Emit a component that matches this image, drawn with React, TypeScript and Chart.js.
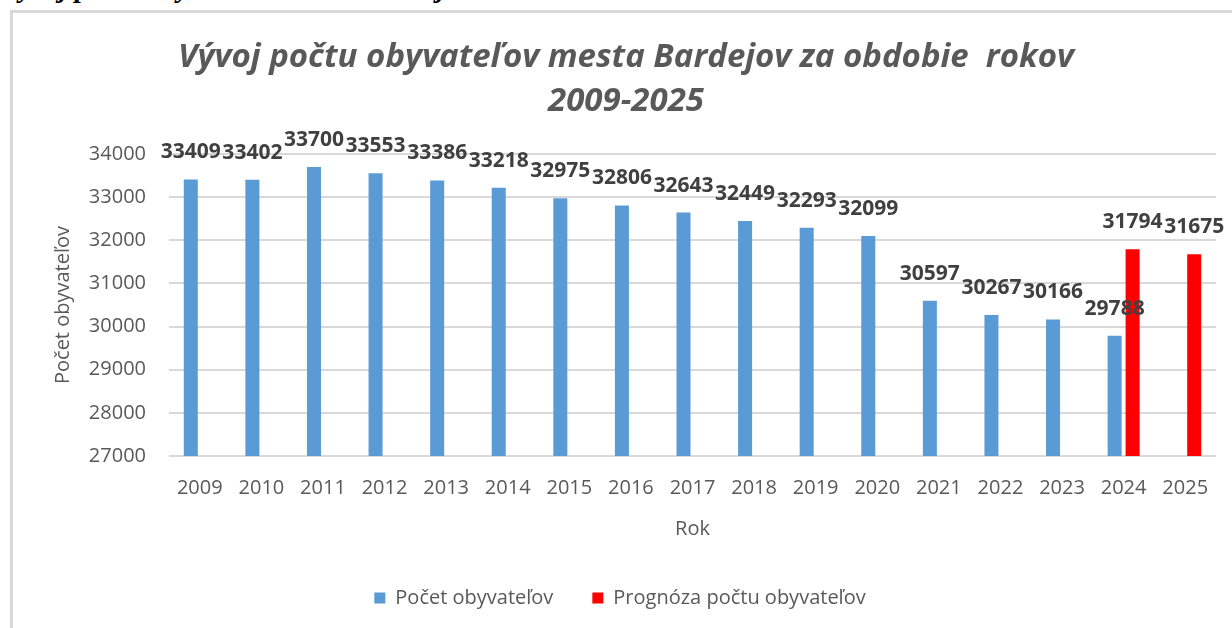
import React, { useEffect, useRef } from "react";
import { Chart, registerables } from "chart.js";

Chart.register(...registerables);

const captionText = "Vývoj počtu obyvateľov mesta Bardejov za obdobie 2009-2025";
const titleLines = ["Vývoj počtu obyvateľov mesta Bardejov za obdobie  rokov", "2009-2025"];
const years = ["2009", "2010", "2011", "2012", "2013", "2014", "2015", "2016", "2017", "2018", "2019", "2020", "2021", "2022", "2023", "2024", "2025"];
const population = [33409, 33402, 33700, 33553, 33386, 33218, 32975, 32806, 32643, 32449, 32293, 32099, 30597, 30267, 30166, 29788, null];
const forecast = [null, null, null, null, null, null, null, null, null, null, null, null, null, null, null, 31794, 31675];
const seriesNames = ["Počet obyvateľov", "Prognóza počtu obyvateľov"];
const yMin = 27000;
const yMax = 34000;
const yStep = 1000;
const yTitle = "Počet obyvateľov";
const xTitle = "Rok";

const FONT = "'Open Sans', 'Noto Sans', sans-serif";

const barLabels = {
  id: "barLabels",
  afterDatasetsDraw(chart: any) {
    const ctx = chart.ctx;
    ctx.save();
    ctx.font = `bold 21px ${FONT}`;
    ctx.fillStyle = "#404040";
    ctx.textAlign = "center";
    ctx.textBaseline = "middle";
    chart.data.datasets.forEach((ds: any, i: number) => {
      const meta = chart.getDatasetMeta(i);
      meta.data.forEach((bar: any, j: number) => {
        const v = ds.data[j];
        if (v == null) return;
        ctx.fillText(String(v), bar.x, bar.y - 27);
      });
    });
    ctx.restore();
  },
};

const shiftLegend = {
  id: "shiftLegend",
  afterLayout(chart: any) {
    if (chart.legend) {
      chart.legend.left -= 6;
      chart.legend.right -= 6;
    }
  },
};

export default function App() {
  const ref = useRef<HTMLCanvasElement | null>(null);

  useEffect(() => {
    if (!ref.current) return;
    const chart = new Chart(ref.current, {
      type: "bar",
      data: {
        labels: years,
        datasets: [
          {
            label: seriesNames[0],
            data: population,
            backgroundColor: "#5b9bd5",
            categoryPercentage: 0.584,
            barPercentage: 0.78,
          },
          {
            label: seriesNames[1],
            data: forecast,
            backgroundColor: "#ff0000",
            categoryPercentage: 0.584,
            barPercentage: 0.78,
          },
        ],
      },
      options: {
        responsive: false,
        animation: false,
        layout: { padding: { left: 36, right: 16, top: 0, bottom: 10 } },
        plugins: {
          title: {
            display: true,
            text: titleLines,
            color: "#595959",
            font: { family: FONT, size: 33, weight: "bold", style: "italic", lineHeight: 44 / 33 },
            padding: { top: 36, bottom: 30 },
          },
          legend: {
            position: "bottom",
            labels: {
              boxWidth: 11,
              boxHeight: 11,
              color: "#595959",
              font: { family: FONT, size: 20 },
              padding: 39,
            },
          },
          tooltip: { enabled: false },
        },
        scales: {
          x: {
            grid: { display: false, drawTicks: false },
            border: { display: false },
            ticks: { color: "#595959", font: { family: FONT, size: 20 }, padding: 20 },
            title: {
              display: true,
              text: xTitle,
              color: "#595959",
              font: { family: FONT, size: 20 },
              padding: { top: -3, bottom: 8 },
            },
          },
          y: {
            min: yMin,
            max: yMax,
            afterFit(scale: any) {
              scale.width = 133;
            },
            grid: { color: "#d9d9d9", lineWidth: 2, drawTicks: false },
            border: { display: false },
            ticks: {
              stepSize: yStep,
              color: "#595959",
              font: { family: FONT, size: 20 },
              padding: 23,
              callback: (v: any) => String(v),
            },
            title: {
              display: true,
              text: yTitle,
              color: "#595959",
              font: { family: FONT, size: 20 },
              padding: { top: 15, bottom: 0 },
            },
          },
        },
      },
      plugins: [barLabels, shiftLegend],
    });
    return () => chart.destroy();
  }, []);

  return (
    <div style={{ position: "fixed", left: 0, top: 0, width: 1232, height: 628, background: "#fff", overflow: "hidden" }}>
      <div
        style={{
          position: "absolute",
          left: 0,
          top: -28,
          whiteSpace: "nowrap",
          fontFamily: "'Liberation Serif', 'Times New Roman', serif",
          fontWeight: "bold",
          fontStyle: "italic",
          fontSize: 29,
          lineHeight: "30px",
          color: "#000",
        }}
      >
        {captionText}
      </div>
      <div
        style={{
          position: "absolute",
          left: 10,
          top: 10,
          width: 1300,
          height: 700,
          borderLeft: "3px solid #d9d9d9",
          borderTop: "3px solid #d9d9d9",
        }}
      />
      <canvas ref={ref} width={1232} height={628} style={{ position: "absolute", left: 0, top: 0 }} />
    </div>
  );
}
